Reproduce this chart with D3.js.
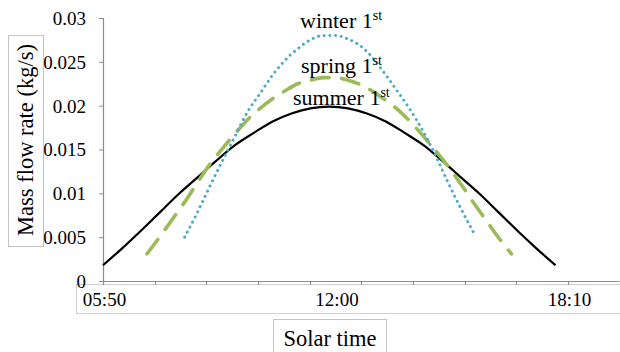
<!DOCTYPE html>
<html>
<head>
<meta charset="utf-8">
<script src="https://cdn.jsdelivr.net/npm/d3@7/dist/d3.min.js"></script>
<style>
  html, body { margin: 0; padding: 0; background: #fff; }
  svg { display: block; }
  text { font-family: "Liberation Serif", "Times New Roman", serif; fill: #000; }
</style>
</head>
<body>
<svg id="chart" width="620" height="352"></svg>
<script>
// ---- data ----
// times as "HH:MM", values in kg/s
const summerTimes = ["05:50","06:20","06:50","07:20","07:50","08:20","08:50","09:20","09:50","10:20","10:50","11:20","11:50",
                     "12:20","12:50","13:20","13:50","14:20","14:50","15:20","15:50","16:20","16:50","17:20","17:50"];
const summerValues = [0.0018,0.0037,0.0057,0.0078,0.0099,0.0118,0.0137,0.0155,0.0169,0.0182,0.0191,0.0197,0.0199,
                      0.0197,0.0191,0.0182,0.0169,0.0155,0.0137,0.0118,0.0099,0.0078,0.0057,0.0037,0.0018];

const springTimes = ["07:00","07:20","07:40","08:00","08:20","08:40","09:00","09:20","09:40","10:00","10:20","10:40","11:00","11:20","11:40",
                     "12:00","12:20","12:40","13:00","13:20","13:40","14:00","14:20","14:40","15:00","15:20","15:40","16:00","16:20","16:40"];
const springValues = [0.0031,0.0050,0.0070,0.0090,0.0112,0.0133,0.0151,0.0168,0.0184,0.0197,0.0208,0.0217,0.0225,0.0229,0.0232,
                      0.0232,0.0229,0.0224,0.0216,0.0206,0.0195,0.0181,0.0165,0.0148,0.0130,0.0110,0.0089,0.0069,0.0049,0.0031];

const winterTimes = ["08:00","08:20","08:40","09:00","09:20","09:40","10:00","10:20","10:40","11:00","11:20","11:40",
                     "12:00","12:20","12:40","13:00","13:20","13:40","14:00","14:20","14:40","15:00","15:20","15:40"];
const winterValues = [0.0050,0.0078,0.0108,0.0137,0.0165,0.0193,0.0214,0.0235,0.0252,0.0265,0.0275,0.0280,
                      0.0280,0.0276,0.0268,0.0254,0.0235,0.0215,0.0194,0.0170,0.0142,0.0111,0.0082,0.0055];

const xTickLabels = ["05:50","12:00","18:10"];
const yTicks = [0, 0.005, 0.01, 0.015, 0.02, 0.025, 0.03];
const seriesLabels = ["winter 1", "spring 1", "summer 1"];
const labelSup = "st";
const xTitle = "Solar time";
const yTitle = "Mass flow rate (kg/s)";

// ---- helpers ----
const toMin = s => { const [h, m] = s.split(":").map(Number); return h * 60 + m; };

const svg = d3.select("#chart");
const axisColor = "#8c8c8c";
const boxColor = "#d0d0d0";

const xStart = toMin(xTickLabels[0]);
const xEnd = toMin(xTickLabels[xTickLabels.length - 1]);
const x = d3.scaleLinear().domain([xStart, xEnd]).range([103, 568]);
const y = d3.scaleLinear().domain([0, 0.03]).range([281, 18]);

// tick label box (x axis)
svg.append("rect")
  .attr("x", 76.5).attr("y", 284.5).attr("width", 560).attr("height", 29)
  .attr("fill", "none").attr("stroke", boxColor).attr("stroke-width", 1);

// x axis: minor ticks dividing 05:50–18:10 into 9 parts, continuing to the edge
const step = (xEnd - xStart) / 9;
const xAxisEnd = xStart + 10 * step;
const minorTicks = d3.range(0, 11).map(i => xStart + i * step);
const gx = svg.append("g").attr("transform", "translate(0,281)");
gx.append("line").attr("x1", x(xStart)).attr("x2", x(xAxisEnd))
  .attr("y1", 0.5).attr("y2", 0.5).attr("stroke", axisColor).attr("stroke-width", 1.2);
gx.selectAll("line.tk").data(minorTicks).join("line").attr("class", "tk")
  .attr("x1", d => Math.round(x(d)) + 0.5).attr("x2", d => Math.round(x(d)) + 0.5)
  .attr("y1", 0).attr("y2", 4).attr("stroke", axisColor).attr("stroke-width", 1);
gx.selectAll("text").data(xTickLabels).join("text")
  .attr("x", d => x(toMin(d)) + 1.5).attr("y", 25)
  .attr("text-anchor", "middle").attr("font-size", 19).text(d => d);

// y axis
const gy = svg.append("g").attr("transform", "translate(103,0)");
gy.call(d3.axisLeft(y).tickValues(yTicks).tickSize(4).tickPadding(13).tickFormat(d3.format("")));
gy.select(".domain").attr("stroke", axisColor).attr("stroke-width", 1.2).attr("d", `M0.5,${y(0.03)}V${y(0)+3}`);
gy.selectAll(".tick line").attr("stroke", axisColor);
gy.selectAll(".tick text").attr("font-size", 19).attr("font-family", "Liberation Serif").attr("fill", "#000").attr("dy", "0.34em");

// axis titles with boxes
svg.append("rect").attr("x", 8.5).attr("y", 35.5).attr("width", 35).attr("height", 211)
  .attr("fill", "#fff").attr("stroke", "#c4c4c4");
svg.append("text").attr("transform", "translate(33,140) rotate(-90)")
  .attr("text-anchor", "middle").attr("font-size", 22.5).text(yTitle);

svg.append("rect").attr("x", 273.5).attr("y", 319.5).attr("width", 113).attr("height", 33)
  .attr("fill", "#fff").attr("stroke", "#c4c4c4");
svg.append("text").attr("x", 330).attr("y", 346)
  .attr("text-anchor", "middle").attr("font-size", 22.5).text(xTitle);

// series
const line = d3.line().x(d => x(d.t)).y(d => y(d.v)).curve(d3.curveMonotoneX);
const mk = (times, vals) => times.map((t, i) => ({ t: toMin(t), v: vals[i] }));

svg.append("path").datum(mk(summerTimes, summerValues)).attr("d", line)
  .attr("fill", "none").attr("stroke", "#000").attr("stroke-width", 2.2);

svg.append("path").datum(mk(springTimes, springValues)).attr("d", line)
  .attr("fill", "none").attr("stroke", "#9BBB59").attr("stroke-width", 3.6)
  .attr("stroke-linecap", "round").attr("stroke-dasharray", "18 12.5");

svg.append("path").datum(mk(winterTimes, winterValues)).attr("d", line)
  .attr("fill", "none").attr("stroke", "#4BACC6").attr("stroke-width", 3)
  .attr("stroke-linecap", "round").attr("stroke-dasharray", "0.01 5.7");

// series labels
const labelPos = [[300, 28], [301, 73], [293, 105]];
seriesLabels.forEach((s, i) => {
  const t = svg.append("text").attr("x", labelPos[i][0]).attr("y", labelPos[i][1]).attr("font-size", 22);
  t.append("tspan").text(s);
  t.append("tspan").attr("font-size", 14).attr("dy", -8).text(labelSup);
});
</script>
</body>
</html>
